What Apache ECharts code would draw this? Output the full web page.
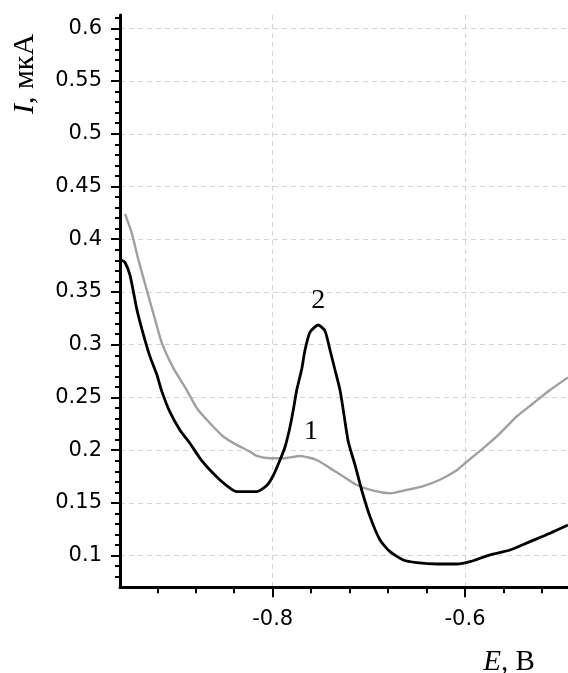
<!DOCTYPE html>
<html>
<head>
<meta charset="utf-8">
<script src="https://cdn.jsdelivr.net/npm/echarts@6/dist/echarts.min.js"></script>
<style>html,body{margin:0;padding:0;background:#fff;}#c{width:568px;height:673px;}</style>
</head>
<body>
<div id="c"></div>
<script>
// Curve 2 (black)
var blackE = [-0.9570,-0.9536,-0.9484,-0.9414,-0.9346,-0.9276,-0.9206,-0.9154,-0.9068,-0.8964,-0.8861,-0.8756,-0.8652,-0.8548,-0.8444,-0.8374,-0.8166,-0.8062,-0.7994,-0.7924,-0.7872,-0.7820,-0.7786,-0.7750,-0.7698,-0.7664,-0.7612,-0.7526,-0.7456,-0.7404,-0.7352,-0.7300,-0.7266,-0.7214,-0.7144,-0.7074,-0.6988,-0.6884,-0.6780,-0.6642,-0.6502,-0.6294,-0.6086,-0.5948,-0.5740,-0.5532,-0.5324,-0.5116,-0.4929];
var blackI = [0.380,0.378,0.366,0.334,0.310,0.2887,0.272,0.256,0.236,0.219,0.2066,0.1923,0.1812,0.1717,0.164,0.1607,0.1607,0.1665,0.176,0.1907,0.203,0.222,0.238,0.257,0.277,0.295,0.312,0.3187,0.313,0.295,0.276,0.257,0.238,0.208,0.186,0.162,0.137,0.1149,0.1038,0.0959,0.0934,0.0921,0.0921,0.0943,0.1007,0.1054,0.1133,0.1212,0.129];
// Curve 1 (gray)
var grayE = [-0.9536,-0.9466,-0.9398,-0.9310,-0.9242,-0.9154,-0.9034,-0.8894,-0.8790,-0.8652,-0.8514,-0.8374,-0.8236,-0.8166,-0.8028,-0.7890,-0.7716,-0.7542,-0.7404,-0.7266,-0.7126,-0.6954,-0.6780,-0.6606,-0.6434,-0.6260,-0.6086,-0.5982,-0.5810,-0.5636,-0.5462,-0.5290,-0.5116,-0.4929];
var grayI = [0.424,0.406,0.381,0.352,0.330,0.302,0.278,0.257,0.240,0.2255,0.213,0.205,0.1986,0.1945,0.1923,0.1923,0.1945,0.1907,0.183,0.175,0.167,0.1616,0.1592,0.1623,0.166,0.172,0.181,0.189,0.202,0.216,0.232,0.2445,0.257,0.269];

var xMajorTicks = [-0.8, -0.6];
var xMinorTicks = [-0.92,-0.88,-0.84,-0.76,-0.72,-0.68,-0.64,-0.56,-0.52];
var yMajorTicks = [0.1,0.15,0.2,0.25,0.3,0.35,0.4,0.45,0.5,0.55,0.6];
var yMinorTicks = [0.08,0.09,0.11,0.12,0.13,0.14,0.16,0.17,0.18,0.19,0.21,0.22,0.23,0.24,0.26,0.27,0.28,0.29,0.31,0.32,0.33,0.34,0.36,0.37,0.38,0.39,0.41,0.42,0.43,0.44,0.46,0.47,0.48,0.49,0.51,0.52,0.53,0.54,0.56,0.57,0.58,0.59,0.61];

var xMin = -0.9588, xMax = -0.4929;
var yMin = 0.07, yMax = 0.6126;

function pairs(a, b) { return a.map(function (v, i) { return [v, b[i]]; }); }

var gridLine = { show: true, lineStyle: { color: '#d4d4d4', width: 1, type: [5, 4] } };
var labelFont = { fontFamily: 'DejaVu Sans', fontSize: 21, color: '#000' };
var serif = 'Liberation Serif';

var chart = echarts.init(document.getElementById('c'), null, { renderer: 'canvas' });
chart.setOption({
  animation: false,
  backgroundColor: '#fff',
  grid: { left: 120, right: 0, top: 15, bottom: 85.7, containLabel: false },
  xAxis: [
    {
      type: 'value', min: xMin, max: xMax, position: 'bottom',
      axisLine: { show: true, onZero: false, lineStyle: { color: '#000', width: 3 } },
      axisTick: { show: true, customValues: xMajorTicks, length: 10, lineStyle: { color: '#000', width: 2 } },
      axisLabel: Object.assign({ show: true, customValues: xMajorTicks, margin: 22 }, labelFont),
      splitLine: gridLine
    },
    {
      type: 'value', min: xMin, max: xMax, position: 'bottom',
      axisLine: { show: false, onZero: false },
      axisTick: { show: true, customValues: xMinorTicks, length: 6, lineStyle: { color: '#000', width: 2 } },
      axisLabel: { show: false },
      splitLine: { show: false }
    }
  ],
  yAxis: [
    {
      type: 'value', min: yMin, max: yMax, position: 'left',
      axisLine: { show: true, onZero: false, lineStyle: { color: '#000', width: 3 } },
      axisTick: { show: true, customValues: yMajorTicks, length: 9, lineStyle: { color: '#000', width: 2 } },
      axisLabel: Object.assign({ show: true, customValues: yMajorTicks, margin: 18 }, labelFont),
      splitLine: gridLine
    },
    {
      type: 'value', min: yMin, max: yMax, position: 'left',
      axisLine: { show: false, onZero: false },
      axisTick: { show: true, customValues: yMinorTicks, length: 5, lineStyle: { color: '#000', width: 2 } },
      axisLabel: { show: false },
      splitLine: { show: false }
    }
  ],
  series: [
    {
      type: 'line', xAxisIndex: 0, yAxisIndex: 0, data: pairs(grayE, grayI),
      showSymbol: false, symbol: 'none', clip: true, smooth: 0.2,
      lineStyle: { color: '#a0a0a0', width: 2.4 },
      markPoint: {
        symbol: 'circle', symbolSize: 0,
        label: { show: true, position: 'inside', formatter: '{b}', fontFamily: serif, fontSize: 28, color: '#000' },
        data: [{ name: '1', coord: [-0.7602, 0.2173] }]
      }
    },
    {
      type: 'line', xAxisIndex: 0, yAxisIndex: 0, data: pairs(blackE, blackI),
      showSymbol: false, symbol: 'none', clip: true, smooth: 0.2,
      lineStyle: { color: '#000', width: 2.8 },
      markPoint: {
        symbol: 'circle', symbolSize: 0,
        label: { show: true, position: 'inside', formatter: '{b}', fontFamily: serif, fontSize: 28, color: '#000' },
        data: [{ name: '2', coord: [-0.7525, 0.3415] }]
      }
    }
  ],
  graphic: [
    {
      type: 'text', x: 25, y: 74, rotation: Math.PI / 2,
      style: {
        text: '{i|I}{n|, мкА}', align: 'center', verticalAlign: 'middle',
        rich: {
          i: { fontFamily: serif, fontStyle: 'italic', fontSize: 30, fill: '#000' },
          n: { fontFamily: serif, fontSize: 30, fill: '#000' }
        }
      }
    },
    {
      type: 'text', x: 509, y: 662,
      style: {
        text: '{i|E}{n|, B}', align: 'center', verticalAlign: 'middle',
        rich: {
          i: { fontFamily: serif, fontStyle: 'italic', fontSize: 29, fill: '#000' },
          n: { fontFamily: serif, fontSize: 29, fill: '#000' }
        }
      }
    }
  ]
});
</script>
</body>
</html>
